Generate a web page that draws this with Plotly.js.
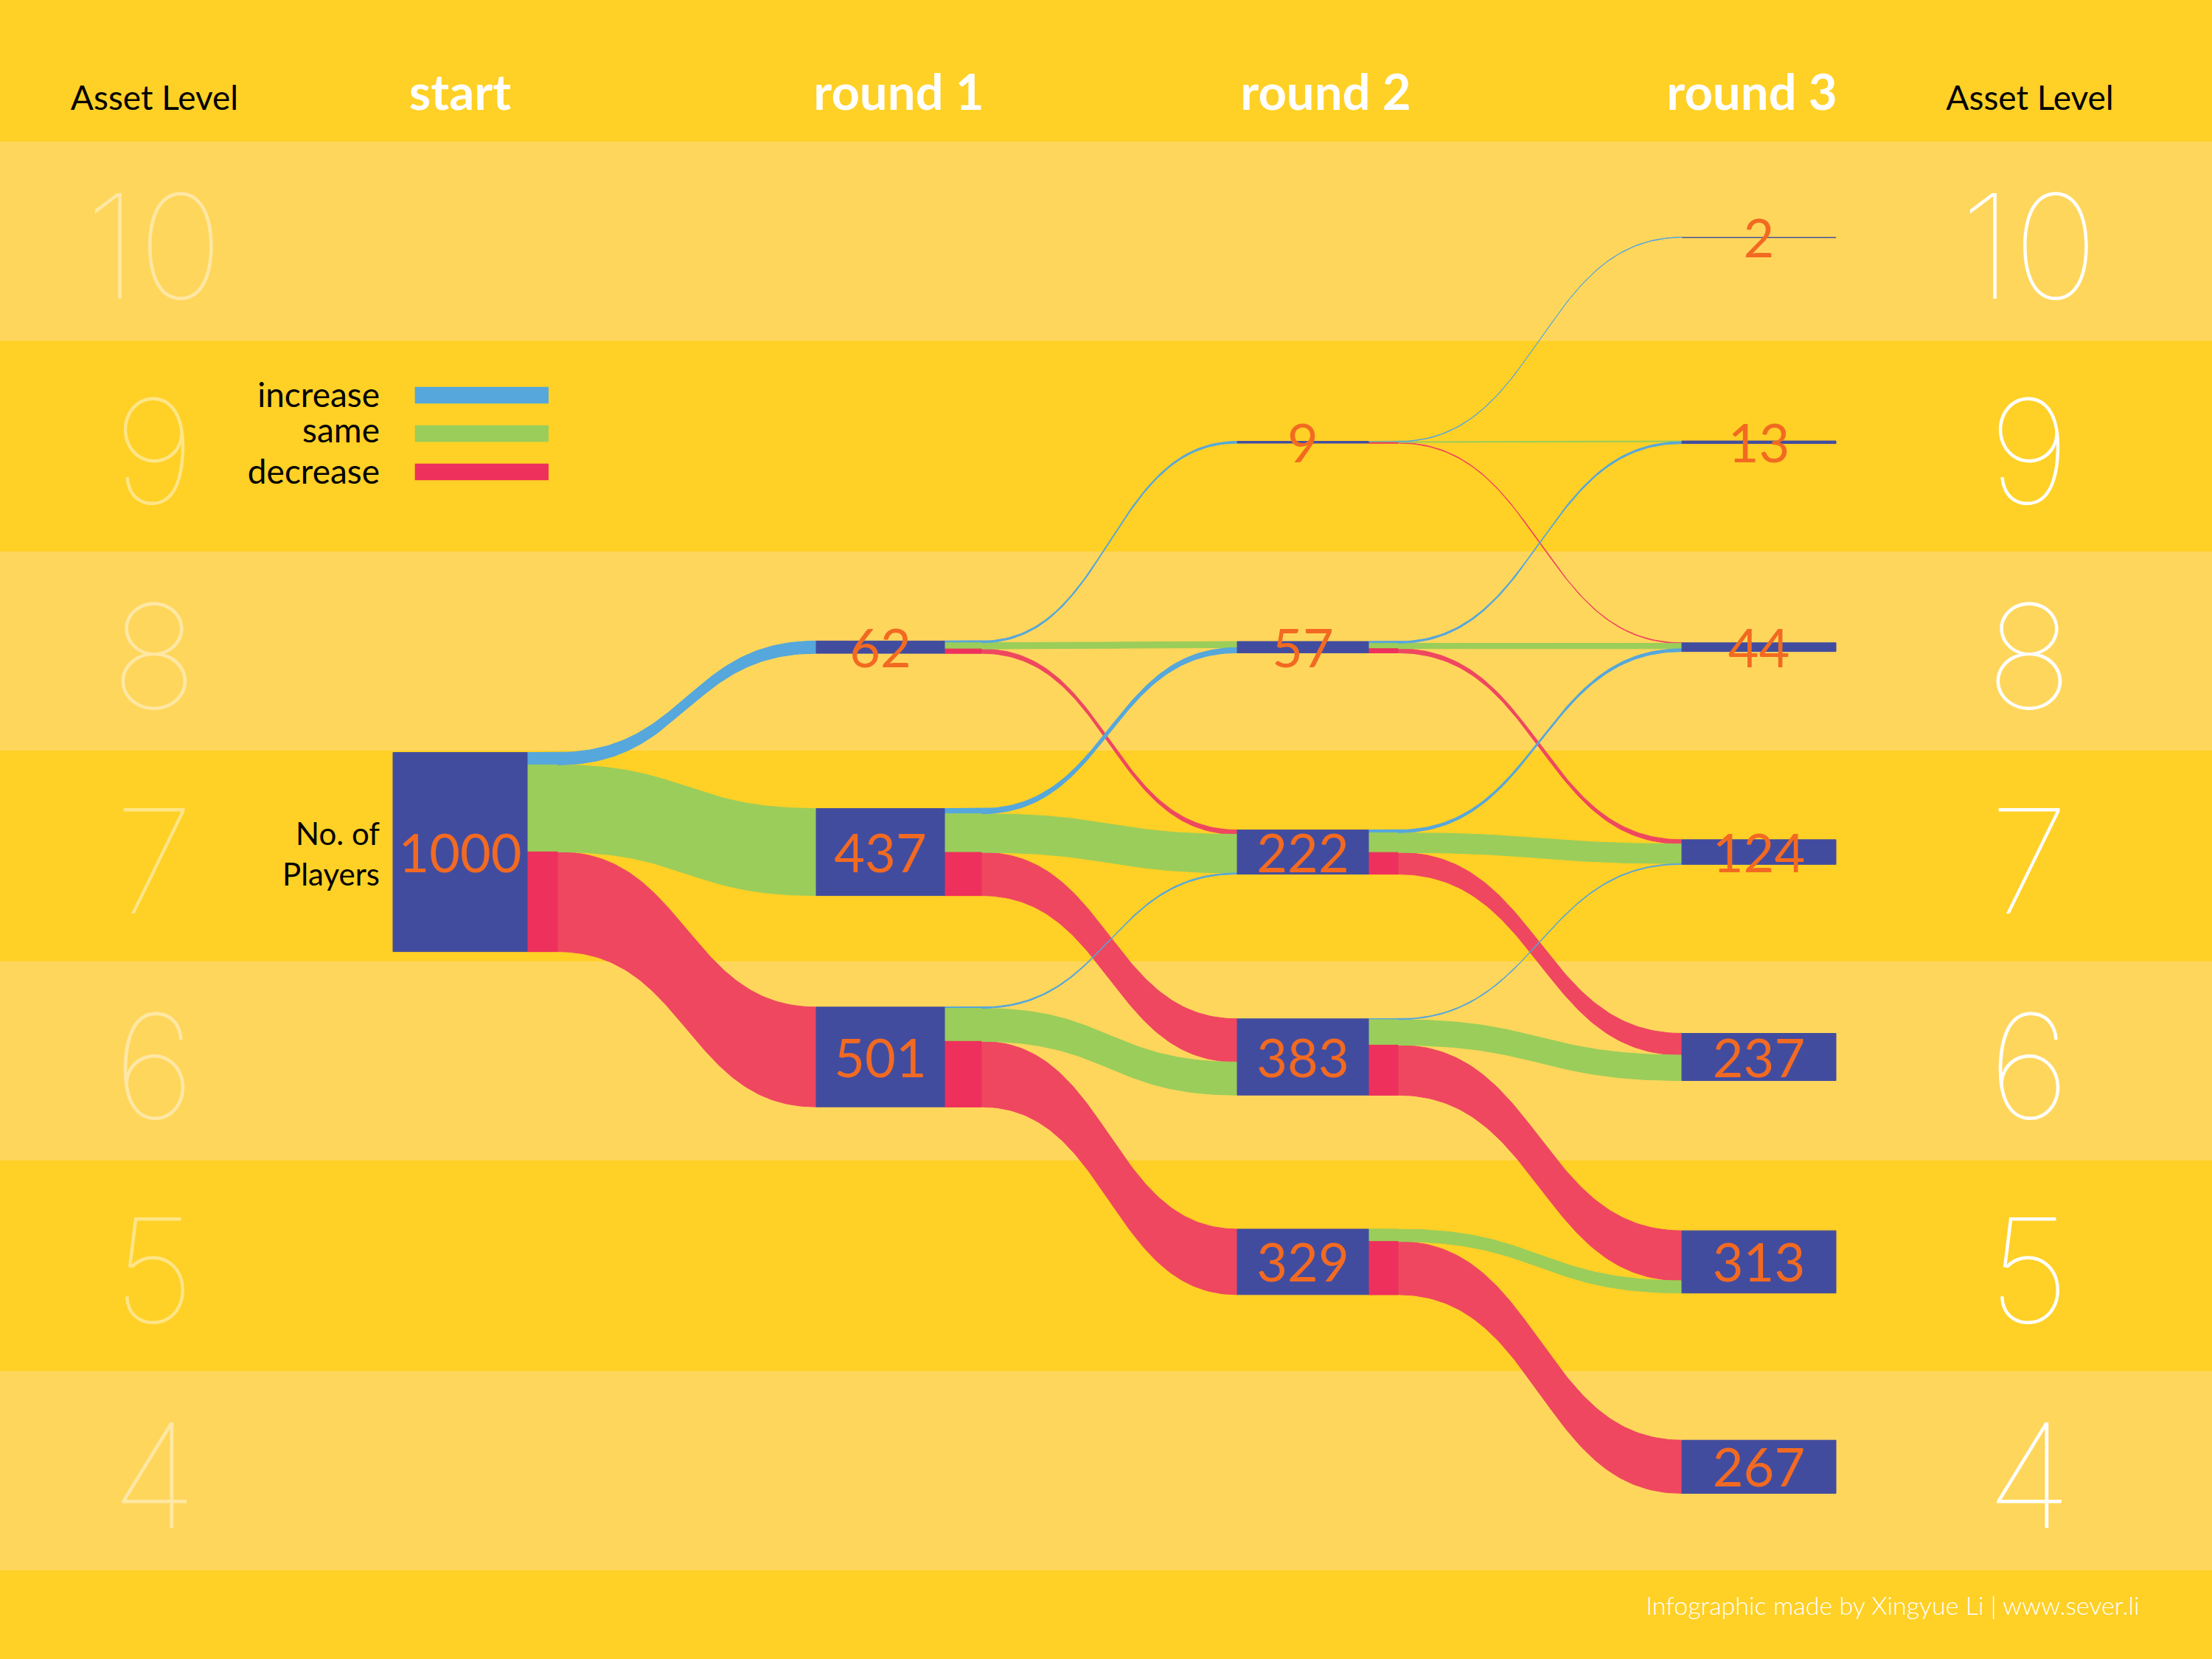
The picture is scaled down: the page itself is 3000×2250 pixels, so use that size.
<!DOCTYPE html>
<html>
<head>
<meta charset="utf-8">
<script src="https://cdn.plot.ly/plotly-3.0.1.min.js"></script>
<style>html,body{margin:0;padding:0;background:#FFD026;}</style>
</head>
<body>
<div id="chart" style="width:3000px;height:2250px;"></div>
<script>
// ================= DATA =================
const stageNames = ['start', 'round 1', 'round 2', 'round 3'];
const assetLevels = [10, 9, 8, 7, 6, 5, 4];
const changeNames = ['increase', 'same', 'decrease'];

// players at each asset level, per stage
const startLevels = [7];
const startPlayers = [1000];
const round1Levels = [8, 7, 6];
const round1Players = [62, 437, 501];
const round2Levels = [9, 8, 7, 6, 5];
const round2Players = [9, 57, 222, 383, 329];
const round3Levels = [10, 9, 8, 7, 6, 5, 4];
const round3Players = [2, 13, 44, 124, 237, 313, 267];

// players leaving each node: [increase, same, decrease]
const startFlows = [[62, 437, 501]];
const round1Flows = [[9, 31, 22], [26, 194, 217], [6, 166, 329]];
const round2Flows = [[2, 4, 3], [9, 27, 21], [14, 99, 109], [4, 128, 251], [0, 62, 267]];

// ================= LAYOUT / STYLE =================
const PX_PER_LEVEL = 277.9, LEVEL7_PX = 1155.6, PX_PER_PLAYER = 0.27;
const pxToLevel = py => 7 + (LEVEL7_PX - py) / PX_PER_LEVEL;
const K = PX_PER_PLAYER / PX_PER_LEVEL;   // level units per player
const geo = {
  nodeLeft:  [533, 1107, 1678, 2281],
  nodeRight: [715, 1281, 1856, 2490],
  stubEnd:   [756, 1331, 1896],
  headerX:   [624, 1219, 1798, 2376],
  levelLeftX: 209, levelRightX: 2752,
  bandBelow: 0.505, bandAbove: 0.467
};
const COL = {
  dark: '#FFD026', light: '#FFD65C', node: '#424C9F', num: '#F26A21',
  link: ['#55A7DC', '#9BCD5A', '#EF4760'],
  stub: ['#55A7DC', '#9BCD5A', '#EE305C']
};
const FONT = 'Lato, "Open Sans", sans-serif';
const DIGIT_FONT = 'Inter, Lato, sans-serif';

const stageLevels = [startLevels, round1Levels, round2Levels, round3Levels];
const stagePlayers = [startPlayers, round1Players, round2Players, round3Players];
const stageFlows = [startFlows, round1Flows, round2Flows];

const nodes = stageLevels.map((lv, s) => lv.map((L, j) => {
  const h = stagePlayers[s][j] * K;
  return {level: L, value: stagePlayers[s][j], top: L + h / 2, bot: L - h / 2, inCursor: L + h / 2};
}));

function bez(x0, y0, x1, y1, n) {
  const xm = (x0 + x1) / 2, X = [], Y = [];
  for (let i = 0; i <= n; i++) {
    const t = i / n, u = 1 - t;
    X.push(u*u*u*x0 + 3*u*u*t*xm + 3*u*t*t*xm + t*t*t*x1);
    Y.push(u*u*u*y0 + 3*u*u*t*y0 + 3*u*t*t*y1 + t*t*t*y1);
  }
  return {X, Y};
}

function poly(x, y, color, name) {
  return {type: 'scatter', mode: 'lines', x, y, fill: 'toself', fillcolor: color,
    line: {color, width: 1}, hoverinfo: 'skip', name, showlegend: false};
}

const linkByType = [[], [], []];
const stubs = [];
for (let s = 0; s < stageFlows.length; s++) {
  nodes[s].forEach((node, j) => {
    let cur = node.top;
    stageFlows[s][j].forEach((v, t) => {
      if (!v) return;
      const w = v * K;
      const ys0 = cur, ys1 = cur - w;
      cur -= w;
      const tgt = nodes[s + 1].find(n => n.level === node.level + [1, 0, -1][t]);
      const yt0 = tgt.inCursor, yt1 = yt0 - w;
      tgt.inCursor = yt1;
      const x0 = geo.stubEnd[s], x1 = geo.nodeLeft[s + 1], xr = geo.nodeRight[s];
      const a = bez(x0, ys0, x1, yt0, 90), b = bez(x0, ys1, x1, yt1, 90);
      const X = [xr].concat(a.X, b.X.slice().reverse(), [xr]);
      const Y = [ys0].concat(a.Y, b.Y.slice().reverse(), [ys1]);
      linkByType[t].push(poly(X, Y, COL.link[t], changeNames[t]));
      stubs.push(poly([xr, x0, x0, xr, xr], [ys0, ys0, ys1, ys1, ys0], COL.stub[t], changeNames[t]));
    });
  });
}

const nodeTraces = [];
const numX = [], numY = [], numT = [];
nodes.forEach((list, s) => list.forEach(n => {
  const L = geo.nodeLeft[s], R = geo.nodeRight[s];
  nodeTraces.push(poly([L, R, R, L, L], [n.bot, n.bot, n.top, n.top, n.bot], COL.node, stageNames[s]));
  numX.push((L + R) / 2); numY.push(n.level - 9 / PX_PER_LEVEL); numT.push(String(n.value));
}));

function textTrace(x, y, text, pos, size, color, weight, family) {
  return {type: 'scatter', mode: 'text', x, y, text, textposition: pos, hoverinfo: 'skip', showlegend: false,
    textfont: {family: family || FONT, size, color, weight: weight || 400}, cliponaxis: false};
}

const texts = [];
texts.push(textTrace(numX, numY, numT, 'middle center', 72, COL.num, 400));
// asset level digits
const digY = assetLevels.map(l => l - 34 / PX_PER_LEVEL);
texts.push(textTrace(assetLevels.map(() => geo.levelLeftX), digY, assetLevels.map(String), 'middle center', 196, 'rgba(255,255,255,0.45)', 100, DIGIT_FONT));
texts.push(textTrace(assetLevels.map(() => geo.levelRightX), digY, assetLevels.map(String), 'middle center', 196, '#FFFFFF', 100, DIGIT_FONT));
// headers
texts.push(textTrace(geo.headerX, geo.headerX.map(() => pxToLevel(149.3 - 0.25 * 67)), stageNames, 'middle center', 67, '#FFFFFF', 700));
texts.push(textTrace([209.5, 2753], [pxToLevel(149 - 0.25 * 46), pxToLevel(149 - 0.25 * 46)], ['Asset Level', 'Asset Level'], 'middle center', 46, '#000000', 400));
// legend text
const legBase = [551.7, 600, 656];
texts.push(textTrace([515, 515, 515], legBase.map(b => pxToLevel(b - 0.25 * 46)), changeNames, 'middle left', 46, '#000000', 400));
texts.push(textTrace([515], [pxToLevel(1146 + 0.4 * 42)], ['No. of<br>Players'], 'middle left', 42, '#000000', 400));
texts.push(textTrace([2901.5], [pxToLevel(2190 - 0.25 * 34)], ['Infographic made by Xingyue Li | www.sever.li'], 'middle left', 34, '#FFFFFF', 300));

const shapes = [];
[10, 8, 6, 4].forEach(l => shapes.push({type: 'rect', xref: 'paper', x0: 0, x1: 1, yref: 'y',
  y0: l - geo.bandBelow, y1: l + geo.bandAbove, fillcolor: COL.light, line: {width: 0}, layer: 'below'}));
[536, 588, 640].forEach((c, t) => shapes.push({type: 'rect', xref: 'x', yref: 'y', x0: 562.7, x1: 744,
  y0: pxToLevel(c + 11.35), y1: pxToLevel(c - 11.35), fillcolor: COL.stub[t], line: {width: 0}, layer: 'above'}));

const data = [].concat(linkByType[2], linkByType[1], linkByType[0], stubs, nodeTraces, texts);

const layout = {
  width: 3000, height: 2250, margin: {l: 0, r: 0, t: 0, b: 0, pad: 0},
  paper_bgcolor: COL.dark, plot_bgcolor: 'rgba(0,0,0,0)', showlegend: false,
  xaxis: {range: [0, 3000], visible: false, fixedrange: true},
  yaxis: {range: [pxToLevel(2250), pxToLevel(0)], visible: false, fixedrange: true},
  shapes, hovermode: false
};
Plotly.newPlot('chart', data, layout, {displayModeBar: false, staticPlot: true});
</script>
</body>
</html>
